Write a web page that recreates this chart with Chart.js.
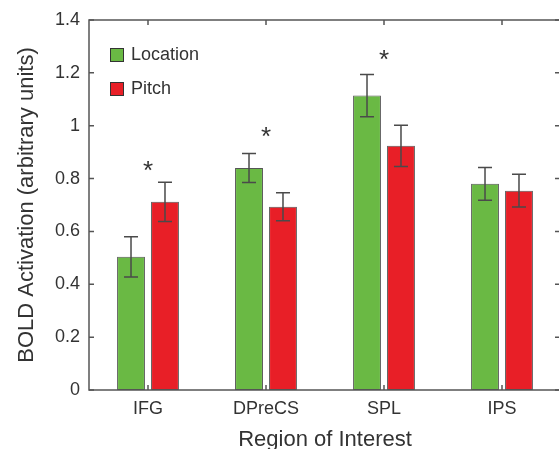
<!DOCTYPE html>
<html>
<head>
<meta charset="utf-8">
<script src="https://cdn.jsdelivr.net/npm/chart.js@4.4.0/dist/chart.umd.min.js"></script>
<style>
  html, body { margin: 0; padding: 0; background: #fff; overflow: hidden; }
  #wrap { position: relative; width: 565px; height: 449px; }
</style>
</head>
<body>
<div id="wrap"><canvas id="chart"></canvas></div>
<script>
"use strict";

const regions = ["IFG", "DPreCS", "SPL", "IPS"];
const locationValues = [0.504, 0.84, 1.114, 0.78];
const locationErrors = [0.076, 0.055, 0.08, 0.062];
const pitchValues = [0.712, 0.693, 0.924, 0.754];
const pitchErrors = [0.074, 0.053, 0.078, 0.062];
// where the significance stars sit (null = no star)
const starLevels = [0.855, 0.984, 1.275, null];
const yTicks = [0, 0.2, 0.4, 0.6, 0.8, 1, 1.2, 1.4];

const FONT = "'Liberation Sans', Arial, Helvetica, sans-serif";
const TEXT = "#333333";
const AXIS = "#555555";

// error bars, stars, legend and the boxed frame with inward ticks
const decorations = {
  id: "decorations",
  afterDatasetsDraw(chart) {
    const { ctx, chartArea: a, scales: { x, y } } = chart;
    ctx.save();

    ctx.strokeStyle = "#4a4a4a";
    ctx.lineWidth = 1.5;
    chart.data.datasets.forEach((ds, i) => {
      chart.getDatasetMeta(i).data.forEach((bar, j) => {
        const top = y.getPixelForValue(ds.data[j] + ds.errors[j]);
        const bot = y.getPixelForValue(ds.data[j] - ds.errors[j]);
        ctx.beginPath();
        ctx.moveTo(bar.x, top); ctx.lineTo(bar.x, bot);
        ctx.moveTo(bar.x - 7, top); ctx.lineTo(bar.x + 7, top);
        ctx.moveTo(bar.x - 7, bot); ctx.lineTo(bar.x + 7, bot);
        ctx.stroke();
      });
    });

    // stars
    ctx.fillStyle = TEXT;
    ctx.font = "26px " + FONT;
    ctx.textAlign = "center";
    ctx.textBaseline = "alphabetic";
    starLevels.forEach((lvl, j) => {
      if (lvl === null) return;
      ctx.fillText("*", x.getPixelForValue(j), y.getPixelForValue(lvl) + 15);
    });

    // legend
    ctx.font = "18px " + FONT;
    ctx.textAlign = "left";
    ctx.textBaseline = "middle";
    ctx.lineWidth = 1;
    ctx.strokeStyle = "#333";
    chart.data.datasets.forEach((ds, i) => {
      const ty = a.top + 28 + i * 34;
      ctx.fillStyle = ds.backgroundColor;
      ctx.fillRect(a.left + 21.5, ty + 0.5, 13, 13);
      ctx.strokeRect(a.left + 21.5, ty + 0.5, 13, 13);
      ctx.fillStyle = TEXT;
      ctx.fillText(ds.label, a.left + 42, ty + 7);
    });

    // frame
    ctx.strokeStyle = AXIS;
    ctx.lineWidth = 1.5;
    ctx.strokeRect(a.left, a.top, a.right - a.left, a.bottom - a.top);
    ctx.beginPath();
    y.ticks.forEach(t => {
      const py = y.getPixelForValue(t.value);
      ctx.moveTo(a.left, py); ctx.lineTo(a.left + 5, py);
      ctx.moveTo(a.right, py); ctx.lineTo(a.right - 6, py);
    });
    regions.forEach((r, j) => {
      const px = x.getPixelForValue(j);
      ctx.moveTo(px, a.top); ctx.lineTo(px, a.top + 5);
      ctx.moveTo(px, a.bottom); ctx.lineTo(px, a.bottom - 5);
    });
    ctx.stroke();
    ctx.restore();
  }
};

const ctx = document.getElementById("chart").getContext("2d");
const myChart = new Chart(ctx, {
  type: "bar",
  data: {
    labels: regions,
    datasets: [
      {
        label: "Location",
        data: locationValues,
        errors: locationErrors,
        backgroundColor: "#6ab944",
        borderColor: "#555555",
        borderWidth: 1,
        borderSkipped: false
      },
      {
        label: "Pitch",
        data: pitchValues,
        errors: pitchErrors,
        backgroundColor: "#e81f27",
        borderColor: "#555555",
        borderWidth: 1,
        borderSkipped: false
      }
    ]
  },
  options: {
    responsive: true,
    maintainAspectRatio: false,
    animation: false,
    layout: { padding: { top: 20, right: 4, left: 0, bottom: 0 } },
    categoryPercentage: 0.576,
    barPercentage: 0.82,
    plugins: {
      legend: { display: false },
      tooltip: { enabled: false }
    },
    scales: {
      x: {
        grid: { display: false, drawTicks: false },
        border: { display: false },
        ticks: { color: TEXT, font: { family: FONT, size: 18 }, padding: 8 },
        title: {
          display: true,
          text: "Region of Interest",
          color: TEXT,
          font: { family: FONT, size: 22, lineHeight: 0.8 },
          padding: 0
        },
        afterFit(scale) { scale.height = 59; }
      },
      y: {
        min: 0,
        max: 1.4,
        grid: { display: false, drawTicks: false },
        border: { display: false },
        afterBuildTicks(scale) { scale.ticks = yTicks.map(v => ({ value: v })); },
        ticks: {
          color: TEXT,
          font: { family: FONT, size: 18 },
          padding: 9,
          callback: v => String(v)
        },
        title: {
          display: true,
          text: "BOLD Activation (arbitrary units)",
          color: TEXT,
          font: { family: FONT, size: 22 },
          padding: { top: 14, bottom: 0 }
        },
        afterFit(scale) { scale.width = 89; }
      }
    }
  },
  plugins: [decorations]
});
</script>
</body>
</html>
